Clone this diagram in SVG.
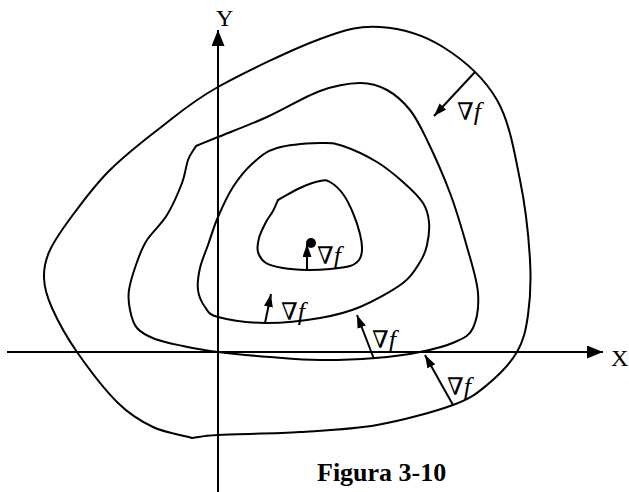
<svg xmlns="http://www.w3.org/2000/svg" width="629" height="492" viewBox="0 0 629 492">
<defs>
<style>
.c{fill:none;stroke:#000;stroke-width:2;stroke-linejoin:round}
.ax{fill:none;stroke:#000;stroke-width:2;marker-end:url(#big)}
.g{fill:none;stroke:#000;stroke-width:2;marker-end:url(#small)}
.lab{font-family:"Liberation Serif","DejaVu Serif",serif;font-size:24px;fill:#000}
.nab{font-family:"DejaVu Serif","Liberation Serif",serif;font-size:24px;fill:#000}
.it{font-family:"Liberation Serif","Times New Roman",serif;font-style:italic;font-size:26px}
.cap{font-family:"Liberation Serif","Times New Roman",serif;font-size:26px;font-weight:bold;fill:#000}
</style>
<marker id="big" markerUnits="userSpaceOnUse" markerWidth="17" markerHeight="14" refX="16" refY="6.5" orient="auto">
<path d="M0,0 L16,6.5 L0,13 z" fill="#000"/>
</marker>
<marker id="small" markerUnits="userSpaceOnUse" markerWidth="14" markerHeight="10" refX="13" refY="4.5" orient="auto">
<path d="M0,0 L13,4.5 L0,9 z" fill="#000"/>
</marker>
</defs>
<rect width="629" height="492" fill="#fff"/>
<g id="contours">
<path id="c1" class="c" d="M192,438 C179,434.3 165.3,432.8 153,427 S130.7,415.5 118,403 S88,367.8 77,352 S57.5,320.3 52,308 S44.3,287.7 44,278 S44.8,261 50,250 S65,225.3 75,212 S95.8,184 110,170 S142,141.8 160,128 S191.3,101.8 218,87 S293,49 320,39 S359.5,25.7 380,27 S423.5,34.8 443,47 S484.2,77.8 497,100 S514.5,153.3 520,180 S528.7,237.5 530,260 S530.2,299.7 528,315 S523.8,340.3 517,352 S497.7,376.2 487,385 S471.3,398.3 453,405 S402.5,420.5 377,425 S326.5,430.3 300,432 S236,434 218,435 S200.7,437 192,438 Z"/>
<path id="c2" class="c" d="M196,146 C203.3,143 206.2,141.8 218,137 S250,124.7 267,117 S304.5,96.7 320,91 S348.8,83.2 360,83 S378.7,85.5 387,90 S403.3,101.7 410,110 S420.3,126.2 427,140 S443.3,175.2 450,193 S462.3,230.3 467,247 S477,279.5 478,293 S476.8,319.8 473,328 S463.8,338 455,342 S433.3,349.3 420,352 S391.7,356.7 375,358 S337.5,360.2 320,360 S287,358.3 270,357 S232.5,353.8 218,352 S193.5,348.2 183,346 S162.7,342 155,339 S141.2,332.8 137,328 S131.3,316.3 130,310 S127.8,298 129,290 S134,270.3 137,262 S142,247.8 147,240 S161.2,224.5 167,215 S178.5,192.2 182,183 S185.7,166.2 188,160 S193.3,150.7 196,146 Z"/>
<path id="c3" class="c" d="M320,143 C331,142.7 333.5,142.8 343,146 S367,156 377,162 S395.3,175.2 403,182 S418.7,196.3 423,203 S428.3,215 429,222 S428.5,238.3 427,245 S424,255.7 420,262 S413,275.5 403,283 S373.8,301.2 360,307 S335.8,315.3 320,318 S282,323.2 265,323 S228,319.7 218,317 S208.3,311.5 205,307 S198.8,296.5 198,290 S198.3,275.5 200,268 S205,253.5 208,245 S213.8,226.7 218,217 S227.2,196 233,187 S245.7,169.5 253,163 S265.8,151.3 277,148 S309,143.3 320,143 Z"/>
<path id="c4" class="c" d="M278,200 C285.3,196 293,191.2 300,188 S315,182 320,181 S326.2,179.8 330,182 S339.2,188.8 343,194 S350.2,206.3 353,213 S358.5,227.8 360,234 S362.2,245.7 362,250 S361,257.3 359,260 S354.8,264.5 350,266 S337.2,268.3 330,269 S314.8,270.2 307,270 S289.8,269.2 283,268 S270.2,265.7 266,263 S259.2,256.2 258,252 S257.7,243 259,238 S263.7,226.5 266,222 S271,214.7 273,211 S276.3,203.7 278,200 Z"/>
</g>
<g id="axes">
<line class="ax" x1="218" y1="492" x2="218" y2="30"/>
<line class="ax" x1="7" y1="352" x2="603" y2="352"/>
<text class="lab" x="216" y="26">Y</text>
<text class="lab" x="611" y="366" font-size="23">X</text>
</g>
<g id="connectors">
<line class="g" x1="475" y1="72" x2="434" y2="116"/>
<line class="g" x1="307" y1="269" x2="307" y2="244"/>
<line class="g" x1="265" y1="323" x2="271" y2="294"/>
<line class="g" x1="374" y1="359" x2="357" y2="315"/>
<line class="g" x1="453" y1="405" x2="425" y2="355"/>
</g>
<g id="minimum"><circle cx="311" cy="243" r="5" fill="#000"/></g>
<g id="labels">
<text class="nab" x="457" y="120">∇<tspan class="it">f</tspan></text>
<text class="nab" x="317" y="264">∇<tspan class="it">f</tspan></text>
<text class="nab" x="281" y="320">∇<tspan class="it">f</tspan></text>
<text class="nab" x="372" y="348">∇<tspan class="it">f</tspan></text>
<text class="nab" x="447" y="395">∇<tspan class="it">f</tspan></text>
</g>
<text class="cap" x="317" y="481">Figura 3-10</text>
</svg>
